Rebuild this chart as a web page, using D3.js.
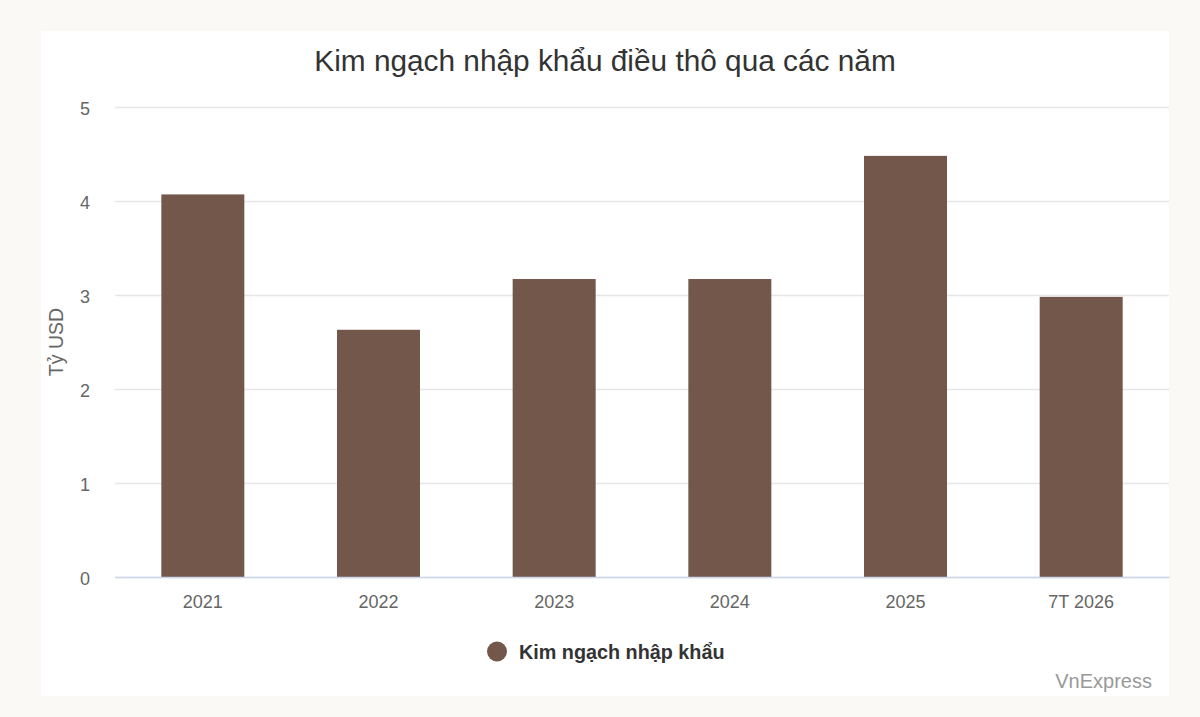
<!DOCTYPE html>
<html>
<head>
<meta charset="utf-8">
<script src="https://cdn.jsdelivr.net/npm/d3@7"></script>
<style>
  html, body { margin: 0; padding: 0; background: #fbf9f6; }
  svg { display: block; font-family: "Liberation Sans", Arial, sans-serif; }
</style>
</head>
<body>
<svg id="chart" width="1200" height="717"></svg>
<script>
// Chart data
var years = ["2021", "2022", "2023", "2024", "2025", "7T 2026"];
var importValues = [4.07, 2.63, 3.17, 3.17, 4.48, 2.98];
var yTicks = [0, 1, 2, 3, 4, 5];

var svg = d3.select("#chart");

// White card behind the chart
svg.append("rect")
  .attr("x", 41).attr("y", 31)
  .attr("width", 1128).attr("height", 665)
  .attr("fill", "#ffffff");

var x = d3.scaleBand().domain(years).range([115, 1169]).paddingInner(0.5275).paddingOuter(0.2637);
var y = d3.scaleLinear().domain([0, 5]).range([577, 107]);

// Title
svg.append("text")
  .attr("x", 605).attr("y", 71)
  .attr("text-anchor", "middle")
  .attr("font-size", 29.8)
  .attr("fill", "#333333")
  .text("Kim ngạch nhập khẩu điều thô qua các năm");

// Y axis and gridlines
var yAxis = svg.append("g")
  .attr("transform", "translate(115,0)")
  .call(d3.axisLeft(y).tickValues(yTicks).tickSize(-1054).tickPadding(25).tickFormat(d3.format("d")));
yAxis.select(".domain").remove();
yAxis.selectAll("line")
  .attr("stroke", "#e6e6e6")
  .attr("stroke-width", 1.5);
yAxis.selectAll("text")
  .attr("font-size", 18)
  .attr("fill", "#666666")
  .attr("font-family", "Liberation Sans, Arial, sans-serif")
  .attr("dy", "0.42em");

// Y axis title
svg.append("text")
  .attr("transform", "translate(63,342) rotate(-90)")
  .attr("text-anchor", "middle")
  .attr("font-size", 19.5)
  .attr("fill", "#666666")
  .text("Tỷ USD");

// Bars
svg.selectAll(".bar")
  .data(years)
  .enter()
  .append("rect")
  .attr("class", "bar")
  .attr("x", d => x(d))
  .attr("y", (d, i) => y(importValues[i]))
  .attr("width", x.bandwidth())
  .attr("height", (d, i) => y(0) - y(importValues[i]))
  .attr("fill", "#74574b");

// X axis
var xAxis = svg.append("g")
  .attr("transform", "translate(0,577)")
  .call(d3.axisBottom(x).tickSize(0).tickPadding(18));
xAxis.select(".domain")
  .attr("stroke", "#ccd6eb")
  .attr("stroke-width", 1.5);
xAxis.selectAll("text")
  .attr("font-size", 18)
  .attr("fill", "#666666")
  .attr("font-family", "Liberation Sans, Arial, sans-serif");

// Legend
svg.append("circle")
  .attr("cx", 497).attr("cy", 651.5).attr("r", 10)
  .attr("fill", "#74574b");
svg.append("text")
  .attr("x", 519).attr("y", 659)
  .attr("font-size", 19.8)
  .attr("font-weight", "bold")
  .attr("fill", "#333333")
  .text("Kim ngạch nhập khẩu");

// Credit
svg.append("text")
  .attr("x", 1152).attr("y", 688)
  .attr("text-anchor", "end")
  .attr("font-size", 20)
  .attr("fill", "#999999")
  .text("VnExpress");
</script>
</body>
</html>
